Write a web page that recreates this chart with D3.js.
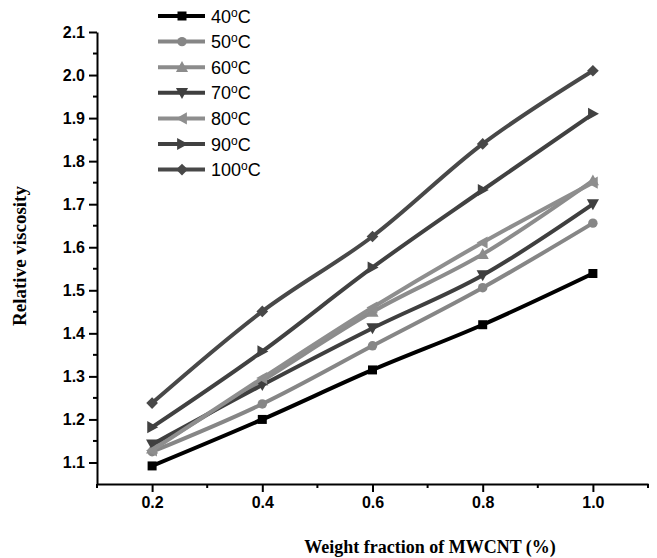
<!DOCTYPE html>
<html>
<head>
<meta charset="utf-8">
<script src="https://cdn.jsdelivr.net/npm/d3@7"></script>
<style>
  body { margin: 0; background: #fff; }
  svg { display: block; }
</style>
</head>
<body>
<svg id="drawing_region"></svg>
<script>
// weight fraction of MWCNT (%)
const fractions = [0.2, 0.4, 0.6, 0.8, 1.0];
const temps = ['40', '50', '60', '70', '80', '90', '100'];

const visc40  = [1.092, 1.200, 1.315, 1.420, 1.539];
const visc50  = [1.125, 1.236, 1.371, 1.506, 1.656];
const visc60  = [1.132, 1.290, 1.450, 1.584, 1.755];
const visc70  = [1.142, 1.280, 1.412, 1.535, 1.700];
const visc80  = [1.128, 1.296, 1.460, 1.611, 1.750];
const visc90  = [1.182, 1.358, 1.553, 1.733, 1.910];
const visc100 = [1.238, 1.451, 1.625, 1.840, 2.010];

const colors  = ['#000000', '#868686', '#8c8c8c', '#3f3f3f', '#8e8e8e', '#414141', '#484848'];
const symbols = ['square', 'circle', 'up', 'down', 'left', 'right', 'diamond'];

const xticks = [0.2, 0.4, 0.6, 0.8, 1.0];
const yticks = [1.1, 1.2, 1.3, 1.4, 1.5, 1.6, 1.7, 1.8, 1.9, 2.0, 2.1];

const allSeries = [visc40, visc50, visc60, visc70, visc80, visc90, visc100];

const config = {
    width: 657,
    height: 558,
    left: 97, right: 648,
    top: 32, bottom: 484
};

const svg = d3.select('#drawing_region')
    .attr('width', config.width)
    .attr('height', config.height);

const xscale = d3.scaleLinear().domain([0.1, 1.1]).range([config.left, config.right]);
const yscale = d3.scaleLinear().domain([1.05, 2.1]).range([config.bottom, config.top]);

// marker path, centred on 0,0
function marker(kind, s) {
    if (kind == 'square') return `M${-s},${-s}H${s}V${s}H${-s}Z`;
    if (kind == 'circle') return d3.symbol(d3.symbolCircle, Math.PI * s * s * 1.1)();
    if (kind == 'diamond') return `M0,${-s*1.3}L${s*1.3},0L0,${s*1.3}L${-s*1.3},0Z`;
    const r = s * 1.35;
    if (kind == 'up') return `M0,${-r}L${r},${r*0.8}L${-r},${r*0.8}Z`;
    if (kind == 'down') return `M0,${r}L${r},${-r*0.8}L${-r},${-r*0.8}Z`;
    if (kind == 'left') return `M${-r},0L${r*0.8},${-r}L${r*0.8},${r}Z`;
    if (kind == 'right') return `M${r},0L${-r*0.8},${-r}L${-r*0.8},${r}Z`;
}

// axes
const xaxis = d3.axisBottom(xscale)
    .tickValues(xticks)
    .tickFormat(d3.format('.1f'))
    .tickSize(8)
    .tickSizeOuter(0);
const yaxis = d3.axisLeft(yscale)
    .tickValues(yticks)
    .tickFormat(d3.format('.1f'))
    .tickSize(8)
    .tickSizeOuter(0);

const xg = svg.append('g')
    .attr('transform', `translate(0, ${config.bottom})`)
    .call(xaxis);
const yg = svg.append('g')
    .attr('transform', `translate(${config.left}, 0)`)
    .call(yaxis);

[xg, yg].forEach(g => {
    g.select('.domain').attr('stroke', '#000').attr('stroke-width', 2);
    g.selectAll('.tick line').attr('stroke', '#000').attr('stroke-width', 2);
    g.selectAll('.tick text')
        .attr('fill', '#000')
        .style('font-family', '"Liberation Sans", Arial, sans-serif')
        .style('font-size', '16px')
        .style('font-weight', 'bold');
});
xg.selectAll('.tick text').attr('y', 13).attr('dy', '0.71em');
yg.selectAll('.tick text').attr('x', -12);

// minor ticks
const xminor = d3.range(0.1, 1.15, 0.2);
svg.append('g').selectAll('line')
    .data(xminor)
    .join('line')
    .attr('x1', d => xscale(d)).attr('x2', d => xscale(d))
    .attr('y1', config.bottom).attr('y2', config.bottom + 4)
    .attr('stroke', '#000').attr('stroke-width', 2);

const yminor = d3.range(1.15, 2.1, 0.1);
svg.append('g').selectAll('line')
    .data(yminor)
    .join('line')
    .attr('x1', config.left - 4).attr('x2', config.left)
    .attr('y1', d => yscale(d)).attr('y2', d => yscale(d))
    .attr('stroke', '#000').attr('stroke-width', 2);

// axis titles
svg.append('text')
    .attr('x', 430)
    .attr('y', 553)
    .attr('text-anchor', 'middle')
    .style('font-family', '"Liberation Serif", "Times New Roman", serif')
    .style('font-size', '18px')
    .style('font-weight', 'bold')
    .text('Weight fraction of MWCNT (%)');

svg.append('text')
    .attr('transform', 'rotate(-90)')
    .attr('x', -256)
    .attr('y', 26)
    .attr('text-anchor', 'middle')
    .style('font-family', '"Liberation Serif", "Times New Roman", serif')
    .style('font-size', '19px')
    .style('font-weight', 'bold')
    .text('Relative viscosity');

// lines and markers
const line = d3.line()
    .x((d, i) => xscale(fractions[i]))
    .y(d => yscale(d))
    .curve(d3.curveMonotoneX);

const series = svg.append('g').selectAll('g')
    .data(allSeries)
    .join('g');

series.append('path')
    .attr('d', d => line(d))
    .attr('fill', 'none')
    .attr('stroke', (d, i) => colors[i])
    .attr('stroke-width', 4);

series.each(function(vals, i) {
    d3.select(this).selectAll('path.mk')
        .data(vals)
        .join('path')
        .attr('class', 'mk')
        .attr('transform', (d, j) => `translate(${xscale(fractions[j])}, ${yscale(d)})`)
        .attr('d', marker(symbols[i], 4.5))
        .attr('fill', colors[i]);
});

// legend
const legend = svg.append('g');
temps.forEach((t, i) => {
    const ly = 16 + i * 25.6;
    legend.append('line')
        .attr('x1', 158).attr('x2', 205)
        .attr('y1', ly).attr('y2', ly)
        .attr('stroke', colors[i])
        .attr('stroke-width', 4);
    legend.append('path')
        .attr('transform', `translate(182, ${ly})`)
        .attr('d', marker(symbols[i], 4.5))
        .attr('fill', colors[i]);
    const txt = legend.append('text')
        .attr('x', 211)
        .attr('y', ly + 6.5)
        .style('font-family', '"Liberation Sans", Arial, sans-serif')
        .style('font-size', '18px')
        .attr('fill', '#000');
    txt.append('tspan').text(t);
    txt.append('tspan').text('o').attr('dy', -6).style('font-size', '12px');
    txt.append('tspan').text('C').attr('dy', 6);
});
</script>
</body>
</html>
